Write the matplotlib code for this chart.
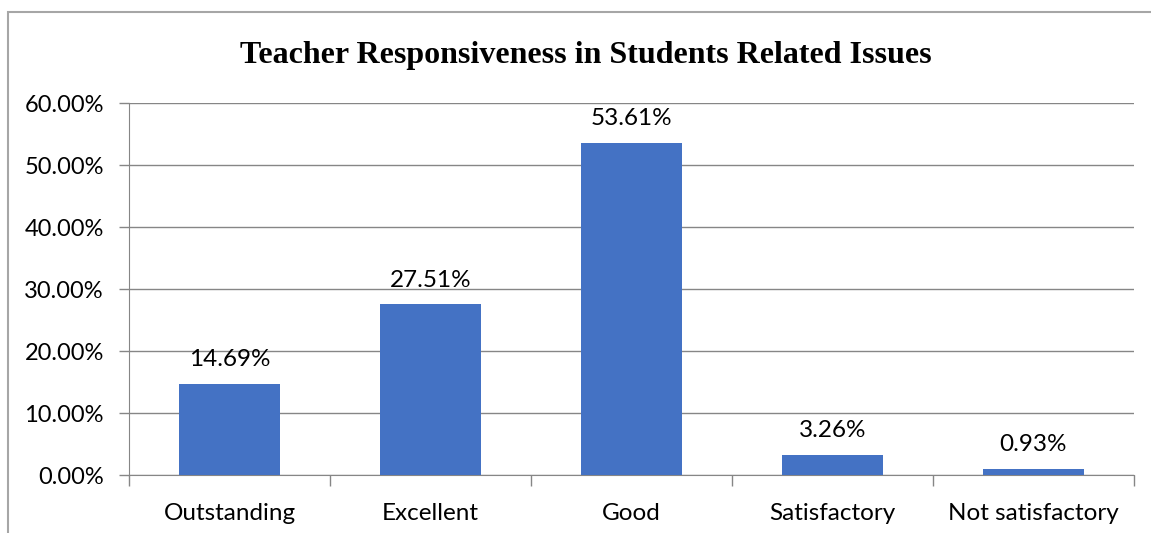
import matplotlib.pyplot as plt
from matplotlib.patches import Rectangle

categories = ['Outstanding', 'Excellent', 'Good', 'Satisfactory', 'Not satisfactory']
values = [14.69, 27.51, 53.61, 3.26, 0.93]
y_ticks = [0, 10, 20, 30, 40, 50, 60]

plt.rcParams['font.family'] = ['Lato', 'DejaVu Sans']

fig = plt.figure(figsize=(11.51, 5.33), dpi=100)
ax = fig.add_axes([129/1151, 58/533, (1134-129)/1151, (475-103)/533])

# outer chart frame (cut off at right and bottom)
fig.patches.append(Rectangle((8/1151, -0.1), 1.2, (533-12)/533 + 0.1,
                             transform=fig.transFigure, fill=False,
                             edgecolor='#a6a6a6', linewidth=1.5))

x = range(len(categories))
bars = ax.bar(x, values, width=0.5, color='#4472C4', zorder=3)

for xi, v in zip(x, values):
    ax.annotate('%.2f%%' % v, (xi, v), xytext=(0, 10), textcoords='offset points',
                ha='center', va='bottom', fontsize=17.5, color='#000000')

ax.set_xlim(-0.5, len(categories) - 0.5)
ax.set_ylim(0, 60)
ax.set_yticks(y_ticks)
ax.set_yticklabels(['%.2f%%' % t for t in y_ticks])
ax.set_xticks(x)
ax.set_xticklabels(categories)
ax.set_xticks([i - 0.5 for i in range(len(categories) + 1)], minor=True)

ax.tick_params(axis='y', labelsize=17, length=7, width=1, color='#868686', pad=11)
ax.tick_params(axis='x', which='major', labelsize=17.5, length=0, pad=20)
ax.tick_params(axis='x', which='minor', length=8, width=1, color='#868686')

ax.grid(axis='y', color='#868686', linewidth=1, zorder=0)
for s in ['top', 'right']:
    ax.spines[s].set_visible(False)
ax.spines['left'].set_color('#868686')
ax.spines['bottom'].set_color('#868686')

fig.text(586/1151, 1 - 55/533, 'Teacher Responsiveness in Students Related Issues',
         ha='center', va='center', fontsize=23, fontweight='bold',
         family='Liberation Serif')

fig.savefig('out.png', dpi=100)
